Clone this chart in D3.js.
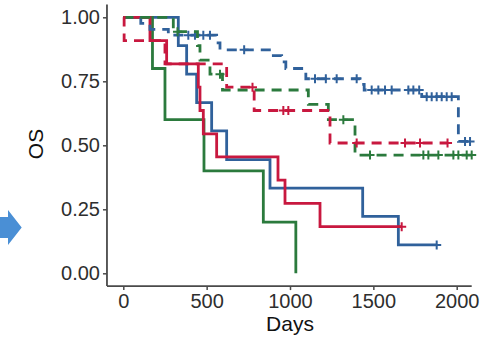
<!DOCTYPE html>
<html>
<head>
<meta charset="utf-8">
<script src="https://cdn.jsdelivr.net/npm/d3@7"></script>
<style>
  body { margin: 0; background: #fff; }
  svg { display: block; font-family: "Liberation Sans", Arial, sans-serif; }
</style>
</head>
<body>
<div id="chart"></div>
<script>
// survival curves: event times (days), survival after each event, censor times
const blueSolidTime = [330, 380, 440, 530, 620, 880, 1436, 1650];
const blueSolidSurv = [0.889, 0.778, 0.667, 0.556, 0.444, 0.333, 0.222, 0.111];
const blueSolidCensor = [1880];

const greenSolidTime = [175, 250, 484, 840, 1035];
const greenSolidSurv = [0.8, 0.6, 0.4, 0.2, 0.0];
const greenSolidCensor = [];

const redSolidTime = [160, 260, 450, 460, 480, 560, 928, 970, 1180];
const redSolidSurv = [0.909, 0.818, 0.727, 0.636, 0.545, 0.455, 0.364, 0.273, 0.182];
const redSolidCensor = [1670];

const blueDashTime = [105, 160, 270, 560, 580, 900, 950, 975, 1095, 1420, 1445, 1790, 2010];
const blueDashSurv = [0.976, 0.953, 0.93, 0.90, 0.873, 0.85, 0.826, 0.80, 0.76, 0.738, 0.716, 0.69, 0.515];
const blueDashCensor = [390, 430, 480, 520, 725, 1150, 1215, 1280, 1400, 1490, 1530, 1570, 1610, 1710, 1740, 1775,
  1820, 1850, 1880, 1910, 1940, 1970, 2050, 2080];

const greenDashTime = [300, 445, 460, 520, 595, 1110, 1230, 1390];
const greenDashSurv = [0.944, 0.889, 0.833, 0.778, 0.716, 0.66, 0.60, 0.462];
const greenDashCensor = [325, 580, 1320, 1480, 1800, 1830, 1890, 1980, 2010, 2060, 2090];

const redDashTime = [5, 250, 620, 785, 1240];
const redDashSurv = [0.909, 0.818, 0.727, 0.636, 0.509];
const redDashCensor = [775, 960, 990, 1400, 1690, 1780, 1945];

const yTicks = [0, 0.25, 0.5, 0.75, 1];
const xTicks = [0, 500, 1000, 1500, 2000];

const COLORS = { blue: '#30619b', green: '#2b7a3d', red: '#c8183f' };

const curves = [
  { time: blueSolidTime, surv: blueSolidSurv, censor: blueSolidCensor, color: COLORS.blue, dash: null },
  { time: greenSolidTime, surv: greenSolidSurv, censor: greenSolidCensor, color: COLORS.green, dash: null },
  { time: redSolidTime, surv: redSolidSurv, censor: redSolidCensor, color: COLORS.red, dash: null },
  { time: blueDashTime, surv: blueDashSurv, censor: blueDashCensor, color: COLORS.blue, dash: '10,7' },
  { time: greenDashTime, surv: greenDashSurv, censor: greenDashCensor, color: COLORS.green, dash: '10,7' },
  { time: redDashTime, surv: redDashSurv, censor: redDashCensor, color: COLORS.red, dash: '10,7' }
];

const WIDTH = 487, HEIGHT = 340;

const svg = d3.select('#chart').append('svg')
  .attr('width', WIDTH)
  .attr('height', HEIGHT);

const x = d3.scaleLinear().domain([0, 2000]).range([123.3, 456.7]);
const y = d3.scaleLinear().domain([0, 1]).range([273.3, 17.3]);

// expanded panel limits (like ggplot's 5% padding)
const xLo = -98, xHi = 2090, yLo = -0.05, yHi = 1.05;

// blue arrow sticking in from the left edge
svg.append('path')
  .attr('d', 'M0,217 L8,217 L8,210 L21.7,227.5 L8,245 L8,238 L0,238 Z')
  .attr('fill', '#4a8fd5');

// step value at a given time
function survAt(c, t) {
  let s = 1;
  c.time.forEach((tt, i) => { if (tt <= t) s = c.surv[i]; });
  return s;
}

const stepLine = d3.line()
  .x(d => x(d[0]))
  .y(d => y(d[1]))
  .curve(d3.curveStepAfter);

curves.forEach(c => {
  const pts = [[0, 1]];
  c.time.forEach((t, i) => pts.push([t, c.surv[i]]));
  const end = d3.max([d3.max(c.time), d3.max(c.censor) || 0]);
  const last = pts[pts.length - 1];
  if (end > last[0]) pts.push([end, last[1]]);

  svg.append('path')
    .datum(pts)
    .attr('fill', 'none')
    .attr('stroke', c.color)
    .attr('stroke-width', 2.8)
    .attr('stroke-dasharray', c.dash)
    .attr('d', stepLine);

  svg.append('g')
    .selectAll('path')
    .data(c.censor)
    .join('path')
    .attr('d', t => {
      const cx = x(t), cy = y(survAt(c, t));
      return `M${cx - 4.5},${cy}H${cx + 4.5}M${cx},${cy - 4.5}V${cy + 4.5}`;
    })
    .attr('stroke', c.color)
    .attr('stroke-width', 2)
    .attr('fill', 'none');
});

// axes
const axisColor = '#4a4a4a';

svg.append('line')
  .attr('x1', x(xLo)).attr('x2', x(xLo))
  .attr('y1', y(yHi)).attr('y2', y(yLo))
  .attr('stroke', axisColor).attr('stroke-width', 1.8);

svg.append('line')
  .attr('x1', x(xLo)).attr('x2', x(xHi))
  .attr('y1', y(yLo)).attr('y2', y(yLo))
  .attr('stroke', axisColor).attr('stroke-width', 1.8);

const yAxis = svg.append('g')
  .attr('transform', `translate(${x(xLo)},0)`)
  .call(d3.axisLeft(y).tickValues(yTicks).tickFormat(d3.format('.2f')).tickSize(4).tickPadding(3));

const xAxis = svg.append('g')
  .attr('transform', `translate(0,${y(yLo)})`)
  .call(d3.axisBottom(x).tickValues(xTicks).tickFormat(d3.format('d')).tickSize(4).tickPadding(4));

[yAxis, xAxis].forEach(g => {
  g.select('.domain').remove();
  g.selectAll('.tick line').attr('stroke', axisColor).attr('stroke-width', 1.5);
  g.selectAll('.tick text')
    .attr('fill', '#2e2e2e')
    .style('font-size', '20px')
    .style('font-family', '"Liberation Sans", Arial, sans-serif');
});

svg.append('text')
  .attr('x', x(1000))
  .attr('y', 331)
  .attr('text-anchor', 'middle')
  .attr('fill', '#111')
  .style('font-size', '21px')
  .text('Days');

svg.append('text')
  .attr('transform', 'translate(43,144) rotate(-90)')
  .attr('text-anchor', 'middle')
  .attr('fill', '#111')
  .style('font-size', '21px')
  .text('OS');
</script>
</body>
</html>
